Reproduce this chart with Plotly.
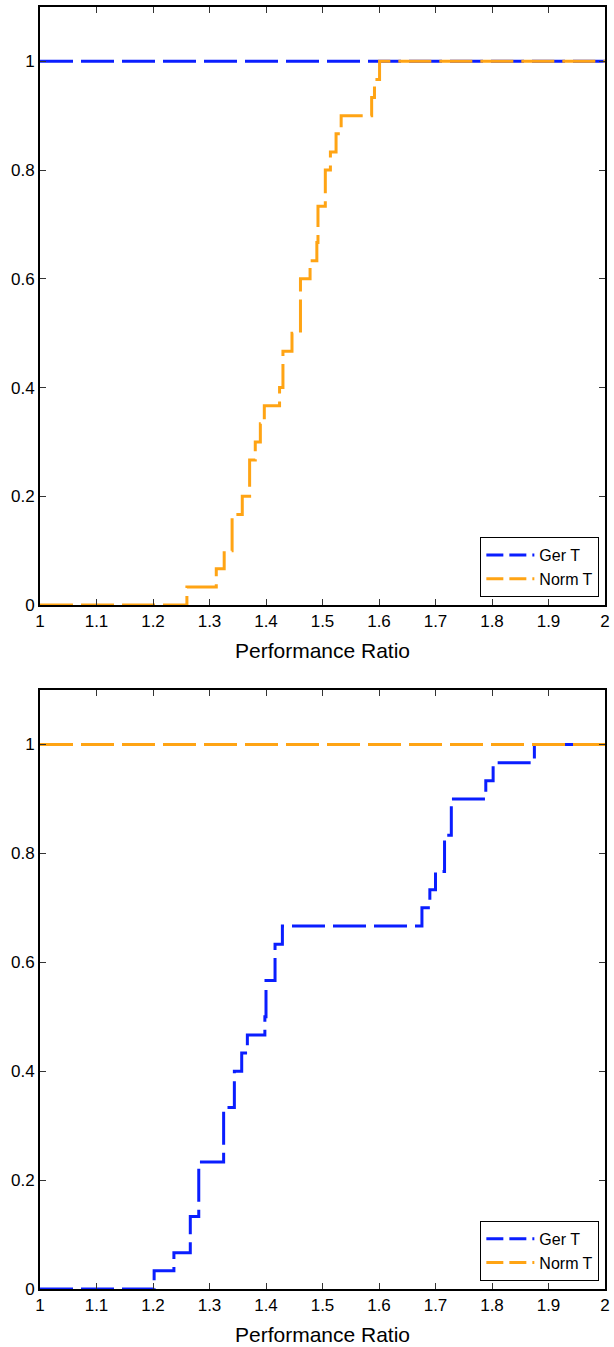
import plotly.graph_objects as go
from plotly.subplots import make_subplots
import numpy as np

# Per-problem performance ratios (30 problems)
top_ger_ratios = [1.0] * 30
top_norm_ratios = [1.260, 1.312, 1.326, 1.340, 1.340, 1.358, 1.371, 1.371, 1.381, 1.390,
                   1.397, 1.424, 1.430, 1.430, 1.446, 1.461, 1.461, 1.461, 1.478, 1.490,
                   1.492, 1.492, 1.505, 1.505, 1.514, 1.524, 1.533, 1.587, 1.592, 1.601]
bot_ger_ratios = [1.202, 1.237, 1.266, 1.266, 1.281, 1.281, 1.281, 1.325, 1.325, 1.325,
                  1.344, 1.344, 1.357, 1.367, 1.398, 1.400, 1.400, 1.416, 1.416, 1.429,
                  1.676, 1.690, 1.700, 1.716, 1.716, 1.728, 1.728, 1.789, 1.802, 1.875]
bot_norm_ratios = [1.0] * 30

series_names = ["Ger T", "Norm T"]
x_ticks = [1, 1.1, 1.2, 1.3, 1.4, 1.5, 1.6, 1.7, 1.8, 1.9, 2]
x_tick_labels = ["1", "1.1", "1.2", "1.3", "1.4", "1.5", "1.6", "1.7", "1.8", "1.9", "2"]
y_ticks = [0, 0.2, 0.4, 0.6, 0.8, 1]
y_tick_labels = ["0", "0.2", "0.4", "0.6", "0.8", "1"]
x_label = "Performance Ratio"

BLUE = "#0a1eff"
ORANGE = "#ffa414"


def profile(ratios, xmin=1.0, xmax=2.0):
    r = np.sort(np.asarray(ratios, dtype=float))
    n = len(r)
    xs = [xmin] + list(r) + [xmax]
    ys = [np.sum(r <= x) / n for x in xs]
    return xs, ys


fig = make_subplots(rows=2, cols=1, vertical_spacing=0.0663)

panels = [(1, top_ger_ratios, top_norm_ratios, "legend"),
          (2, bot_ger_ratios, bot_norm_ratios, "legend2")]
for row, ger, norm, leg in panels:
    for name, ratios, color in [(series_names[0], ger, BLUE), (series_names[1], norm, ORANGE)]:
        xs, ys = profile(ratios)
        fig.add_trace(go.Scatter(x=xs, y=ys, mode="lines", name=name, showlegend=False,
                                 line=dict(color=color, width=3, dash="33px,8px", shape="hv"),
                                 cliponaxis=False),
                      row=row, col=1)
        # legend-only entry with a shorter dash so the sample shows two dashes
        fig.add_trace(go.Scatter(x=[None], y=[None], mode="lines", name=name, showlegend=True,
                                 line=dict(color=color, width=3, dash="17px,6px"),
                                 legend=leg),
                      row=row, col=1)

axis_font = dict(family="Liberation Sans, Arial, Helvetica", size=17, color="black")
for row in (1, 2):
    fig.update_xaxes(range=[1, 2], tickvals=x_ticks, ticktext=x_tick_labels,
                     ticks="inside", ticklen=6, tickwidth=1, tickcolor="#333",
                     showline=True, linecolor="black", linewidth=2, mirror="ticks",
                     showgrid=False, zeroline=False, tickfont=axis_font,
                     title=dict(text=x_label, font=dict(family="Liberation Sans, Arial", size=21, color="black"),
                                standoff=13),
                     row=row, col=1)
    fig.update_yaxes(range=[0, 1.1], tickvals=y_ticks, ticktext=y_tick_labels,
                     ticks="inside", ticklen=6, tickwidth=1, tickcolor="#333",
                     showline=True, linecolor="black", linewidth=2, mirror="ticks",
                     showgrid=False, zeroline=False, tickfont=axis_font,
                     row=row, col=1)

fig.update_layout(yaxis=dict(domain=[0.5335, 1.0]), yaxis2=dict(domain=[0.0, 0.4672]))

leg_common = dict(bgcolor="white", bordercolor="black", borderwidth=1,
                  font=dict(family="Liberation Sans, Arial", size=16, color="black"),
                  xanchor="right", yanchor="bottom", tracegroupgap=0,
                  itemwidth=48)
fig.update_layout(
    width=614, height=1347,
    margin=dict(l=40, r=4, t=7, b=58),
    paper_bgcolor="white", plot_bgcolor="white",
    showlegend=True,
    legend=dict(x=0.99, y=0.5335 + 0.0063, **leg_common),
    legend2=dict(x=0.99, y=0.0063, **leg_common),
)

fig.write_html("out.html")
